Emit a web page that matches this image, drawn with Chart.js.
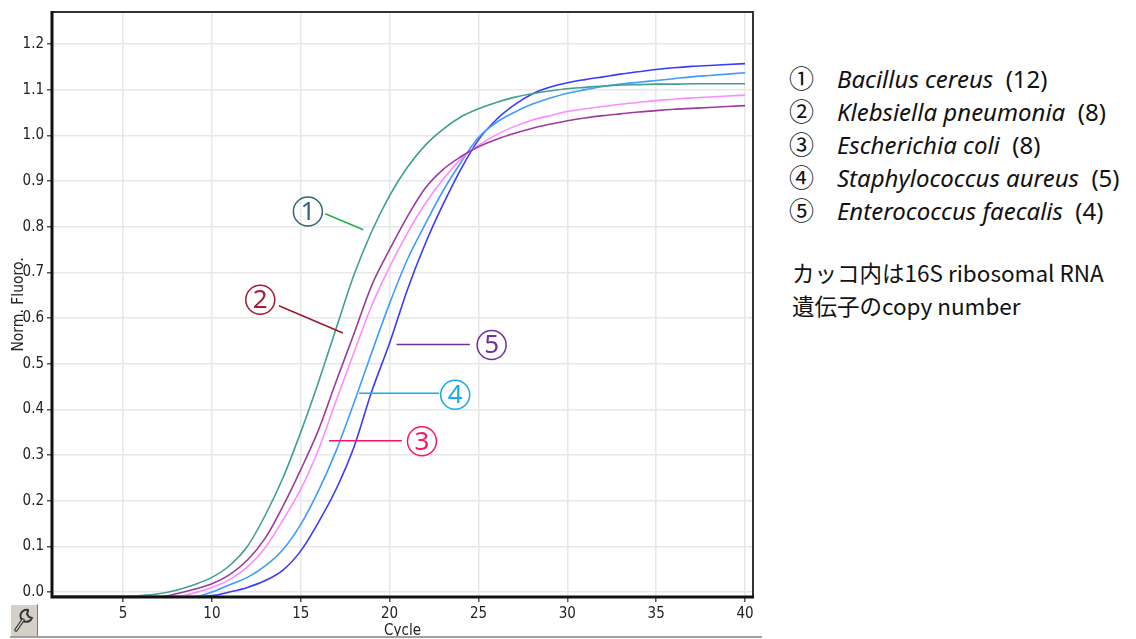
<!DOCTYPE html>
<html>
<head>
<meta charset="utf-8">
<script src="https://cdn.jsdelivr.net/npm/chart.js@4.4.1/dist/chart.umd.min.js"></script>
<style>
  html, body { margin: 0; padding: 0; background: #fff; }
  #wrap { position: relative; width: 1136px; height: 639px; overflow: hidden; }
  #chartBox { position: absolute; left: 0; top: 0; width: 760px; height: 639px; }
  .row { position: absolute; left: 789px; font-family: 'Noto Sans', 'Open Sans', sans-serif; font-size: 24px; color: #111; white-space: nowrap; line-height: 28px; }
  .row .num { display: inline-block; width: 48px; font-family: 'Noto Sans CJK JP', sans-serif; font-size: 25px; }
  .row i { font-style: italic; }
  .note { position: absolute; left: 792px; font-family: 'Noto Sans CJK JP', sans-serif; font-size: 22.5px; color: #111; white-space: nowrap; line-height: 28px; }
  #tool { position: absolute; left: 10px; top: 604px; width: 26px; height: 31px; background: #d4d0c8;
          border-top: 1px solid #fff; border-left: 1px solid #fff; border-right: 1px solid #777; border-bottom: 1px solid #777; }
  #baseLine { position: absolute; left: 10px; top: 636px; width: 752px; height: 2px; background: #a0a0a0; }
</style>
</head>
<body>
<div id="wrap">
  <div id="chartBox"><canvas id="grafico" width="760" height="639"></canvas></div>
  <div id="tool">
    <svg width="26" height="31" viewBox="0 0 26 31">
      <path d="M17 5 a6 6 0 1 0 4 8 l-3 -1 l-2 -3 l1 -3 z" fill="none" stroke="#333" stroke-width="2"/>
      <line x1="12" y1="15" x2="5" y2="25" stroke="#333" stroke-width="3.5" stroke-linecap="round"/>
      <line x1="12" y1="15" x2="5" y2="25" stroke="#eee" stroke-width="1.2" stroke-linecap="round"/>
    </svg>
  </div>
  <div id="baseLine"></div>
  <div id="legendList"></div>
  <div class="note" style="top:258px">カッコ内は16S ribosomal RNA</div>
  <div class="note" style="top:291px">遺伝子のcopy number</div>
</div>

<script>
// ciclos de la corrida y fluorescencia normalizada por especie
const ciclos = [1, 2, 3, 4, 5, 6, 7, 8, 9, 10, 11, 12, 13, 14, 15, 16, 17, 18, 19, 20,
                21, 22, 23, 24, 25, 26, 27, 28, 29, 30, 31, 32, 33, 34, 35, 36, 37, 38, 39, 40];

const bacillus = [-0.010, -0.010, -0.010, -0.010, -0.010, -0.008, -0.004, 0.004, 0.016, 0.032,
                  0.058, 0.100, 0.168, 0.250, 0.350, 0.460, 0.578, 0.695, 0.790, 0.868,
                  0.930, 0.978, 1.013, 1.040, 1.058, 1.072, 1.083, 1.091, 1.097, 1.102,
                  1.105, 1.108, 1.110, 1.111, 1.112, 1.112, 1.113, 1.113, 1.113, 1.113];

const klebsiella = [-0.010, -0.010, -0.010, -0.010, -0.010, -0.010, -0.010, -0.004, 0.006, 0.018,
                    0.038, 0.070, 0.118, 0.188, 0.268, 0.355, 0.462, 0.566, 0.672, 0.750,
                    0.822, 0.884, 0.925, 0.953, 0.975, 0.991, 1.004, 1.015, 1.024, 1.032,
                    1.038, 1.043, 1.047, 1.051, 1.054, 1.057, 1.059, 1.061, 1.063, 1.065];

const ecoli = [-0.010, -0.010, -0.010, -0.010, -0.010, -0.010, -0.010, -0.010, -0.002, 0.010,
               0.027, 0.055, 0.097, 0.158, 0.225, 0.312, 0.420, 0.525, 0.628, 0.712,
               0.786, 0.850, 0.903, 0.948, 0.978, 1.001, 1.019, 1.033, 1.043, 1.052,
               1.058, 1.063, 1.068, 1.072, 1.076, 1.079, 1.082, 1.084, 1.086, 1.088];

const staph = [-0.010, -0.010, -0.010, -0.010, -0.010, -0.010, -0.010, -0.010, -0.010, 0.000,
               0.016, 0.032, 0.057, 0.093, 0.148, 0.222, 0.310, 0.415, 0.525, 0.632,
               0.728, 0.805, 0.878, 0.940, 0.995, 1.028, 1.050, 1.068, 1.081, 1.092,
               1.100, 1.107, 1.112, 1.116, 1.120, 1.124, 1.128, 1.131, 1.134, 1.137];

const enterococcus = [-0.010, -0.010, -0.010, -0.010, -0.010, -0.010, -0.010, -0.010, -0.010, -0.008,
                      0.000, 0.010, 0.025, 0.048, 0.090, 0.153, 0.226, 0.318, 0.440, 0.545,
                      0.662, 0.762, 0.848, 0.925, 0.990, 1.034, 1.066, 1.090, 1.105, 1.115,
                      1.122, 1.128, 1.134, 1.139, 1.144, 1.148, 1.151, 1.153, 1.155, 1.157];

const ticksX = [5, 10, 15, 20, 25, 30, 35, 40];
const ticksY = [0.0, 0.1, 0.2, 0.3, 0.4, 0.5, 0.6, 0.7, 0.8, 0.9, 1.0, 1.1, 1.2];

const numeros = ['①', '②', '③', '④', '⑤'];
const especies = ['Bacillus cereus', 'Klebsiella pneumonia', 'Escherichia coli', 'Staphylococcus aureus', 'Enterococcus faecalis'];
const copias = ['12', '8', '8', '5', '4'];

// etiquetas dentro del grafico: circulo + linea guia, en unidades de datos
const etiquetas = [
    { n: '1', c: 15.40, v: 0.833, desde: [16.38, 0.828], hasta: [18.52, 0.793], color: '#2f6878', linea: '#22b14c' },
    { n: '2', c: 12.72, v: 0.640, desde: [13.77, 0.627], hasta: [17.37, 0.567], color: '#a81c38', linea: '#a01830' },
    { n: '3', c: 21.82, v: 0.330, desde: [16.59, 0.331], hasta: [20.69, 0.331], color: '#ff1464', linea: '#ff1464' },
    { n: '4', c: 23.69, v: 0.432, desde: [18.28, 0.435], hasta: [22.78, 0.435], color: '#1aaae8', linea: '#1aaae8' },
    { n: '5', c: 25.74, v: 0.541, desde: [20.39, 0.542], hasta: [24.52, 0.542], color: '#7030a0', linea: '#7030a0' }
];

const lista = document.getElementById('legendList');
const filasY = [63, 96, 129, 162, 195];
especies.forEach((esp, i) => {
    const div = document.createElement('div');
    div.className = 'row';
    div.style.top = filasY[i] + 'px';
    div.innerHTML = `<span class="num">${numeros[i]}</span><i>${esp}</i>&nbsp; (${copias[i]})`;
    lista.appendChild(div);
});

const marcoPlugin = {
    id: 'marco',
    afterDraw(chart) {
        const { ctx, chartArea: a } = chart;
        ctx.save();
        ctx.strokeStyle = '#333';
        ctx.lineWidth = 2;
        ctx.beginPath();
        ctx.moveTo(a.left, a.top); ctx.lineTo(a.right, a.top); ctx.lineTo(a.right, a.bottom);
        ctx.stroke();
        ctx.strokeStyle = '#111';
        ctx.lineWidth = 3;
        ctx.beginPath();
        ctx.moveTo(a.left, a.top - 1); ctx.lineTo(a.left, a.bottom); ctx.lineTo(a.right + 1, a.bottom);
        ctx.stroke();
        ctx.restore();
    }
};

const etiquetasPlugin = {
    id: 'etiquetas',
    afterDatasetsDraw(chart) {
        const { ctx, scales: { x, y } } = chart;
        ctx.save();
        etiquetas.forEach(e => {
            ctx.strokeStyle = e.linea;
            ctx.lineWidth = 1.6;
            ctx.beginPath();
            ctx.moveTo(x.getPixelForValue(e.desde[0]), y.getPixelForValue(e.desde[1]));
            ctx.lineTo(x.getPixelForValue(e.hasta[0]), y.getPixelForValue(e.hasta[1]));
            ctx.stroke();
            const cx = x.getPixelForValue(e.c), cy = y.getPixelForValue(e.v);
            ctx.strokeStyle = e.color;
            ctx.lineWidth = 1.5;
            ctx.beginPath();
            ctx.arc(cx, cy, 14.5, 0, Math.PI * 2);
            ctx.stroke();
            ctx.fillStyle = e.color;
            ctx.font = '26px "Noto Sans", sans-serif';
            ctx.textAlign = 'center';
            ctx.textBaseline = 'middle';
            ctx.fillText(e.n, cx, cy + 1);
        });
        ctx.restore();
    }
};

function serie(datos, color) {
    return {
        data: ciclos.map((c, i) => ({ x: c, y: datos[i] })),
        borderColor: color,
        borderWidth: 1.6,
        pointRadius: 0,
        fill: false,
        cubicInterpolationMode: 'monotone'
    };
}

const fuenteEje = { family: '"Liberation Sans Narrow", "DejaVu Sans Condensed", sans-serif', size: 15 };

new Chart(document.getElementById('grafico'), {
    type: 'line',
    data: {
        datasets: [
            serie(bacillus, '#3f9f92'),
            serie(klebsiella, '#9b3c9b'),
            serie(ecoli, '#ff8cff'),
            serie(staph, '#3f9cff'),
            serie(enterococcus, '#3a3aff')
        ]
    },
    options: {
        responsive: false,
        animation: false,
        layout: { padding: { top: 12, right: 7, left: 0, bottom: 0 } },
        plugins: { legend: { display: false }, tooltip: { enabled: false } },
        scales: {
            x: {
                type: 'linear',
                min: 1,
                max: 40.45,
                afterBuildTicks: s => { s.ticks = ticksX.map(v => ({ value: v })); },
                afterFit: s => { s.height = 42; },
                grid: { color: '#e8e8e8', lineWidth: 1.5, tickLength: 5, tickColor: '#555' },
                border: { display: false },
                ticks: { font: fuenteEje, color: '#222', padding: 3, maxRotation: 0 },
                title: { display: true, text: 'Cycle', font: { family: fuenteEje.family, size: 15, lineHeight: 1.0 }, color: '#222', padding: { top: 0, bottom: 0 } }
            },
            y: {
                min: -0.011,
                max: 1.27,
                afterBuildTicks: s => { s.ticks = ticksY.map(v => ({ value: v })); },
                afterFit: s => { s.width = 52; },
                grid: { color: '#e8e8e8', lineWidth: 1.5, tickLength: 5, tickColor: '#555' },
                border: { display: false },
                ticks: { font: fuenteEje, color: '#222', padding: 3, callback: v => v.toFixed(1) },
                title: { display: true, text: 'Norm. Fluoro.', font: { family: fuenteEje.family, size: 15.5, lineHeight: 1.0 }, color: '#222', padding: { top: 11, bottom: 0 } }
            }
        }
    },
    plugins: [marcoPlugin, etiquetasPlugin]
});
</script>
</body>
</html>
